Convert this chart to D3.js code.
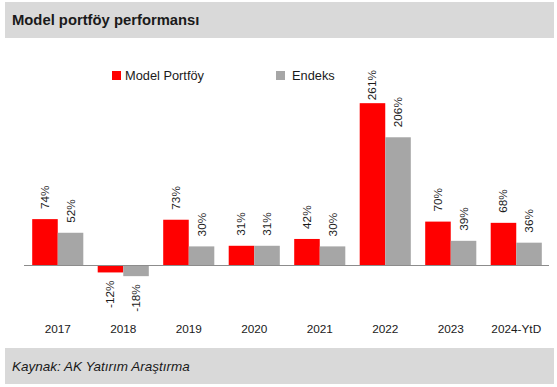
<!DOCTYPE html>
<html><head><meta charset="utf-8">
<script src="https://cdn.jsdelivr.net/npm/d3@7"></script>
<style>
body{margin:0;background:#fff;}
text{font-family:"Liberation Sans",Arial,sans-serif;}
</style></head>
<body><svg id="c" width="557" height="387"></svg>
<script>
const categories = ["2017","2018","2019","2020","2021","2022","2023","2024-YtD"];
const modelPortfoy = [74,-12,73,31,42,261,70,68];
const endeks = [52,-18,30,31,30,206,39,36];
const seriesNames = ["Model Portföy","Endeks"];
const seriesColors = ["#ff0000","#a6a6a6"];
const title = "Model portföy performansı";
const source = "Kaynak: AK Yatırım Araştırma";

const svg = d3.select("#c");
// header and footer bands
svg.append("rect").attr("x",5).attr("y",2).attr("width",549).attr("height",36).attr("fill","#d9d9d9");
svg.append("text").attr("x",12).attr("y",25).attr("font-size",14.8).attr("font-weight","bold").attr("fill","#1a1a1a").text(title);
svg.append("rect").attr("x",5).attr("y",348).attr("width",549).attr("height",36).attr("fill","#d9d9d9");
svg.append("text").attr("x",12).attr("y",371).attr("font-size",13.5).attr("font-style","italic").attr("fill","#1a1a1a").text(source);

const x = d3.scaleBand().domain(categories).range([25,549]).paddingInner(0.22).paddingOuter(0.11);
const xs = d3.scaleBand().domain([0,1]).range([0,x.bandwidth()]);
const y = d3.scaleLinear().domain([-50,300]).range([296,79]);

const data = [modelPortfoy, endeks];
const g = svg.append("g");
data.forEach((vals,si)=>{
  g.selectAll(null).data(vals).enter().append("rect")
    .attr("x",(d,i)=>x(categories[i])+xs(si))
    .attr("width",xs.bandwidth())
    .attr("y",d=>Math.min(y(d),y(0)))
    .attr("height",d=>Math.abs(y(d)-y(0)))
    .attr("fill",seriesColors[si]);
});

// axis
const xAxis = d3.axisBottom(x).tickSize(0).tickPadding(0);
const ax = svg.append("g").attr("transform",`translate(0,${y(0)})`).call(xAxis);
ax.select(".domain").attr("stroke","#8c8c8c").attr("d","M24,0.5H549");
ax.selectAll(".tick text").attr("y",68).attr("dy",0).attr("font-size",11.8).attr("fill","#1a1a1a")
  .attr("font-family","Liberation Sans, Arial, sans-serif");

// labels
data.forEach((vals,si)=>{
  vals.forEach((v,i)=>{
    const cx = x(categories[i])+xs(si)+xs.bandwidth()/2+4;
    const t = svg.append("text").attr("font-size",11.8).attr("fill","#1a1a1a").text(v+"%");
    const len = t.node().getComputedTextLength();
    let py, anchor;
    if(v>=0){ py = Math.max(y(v)-10, 70+len); anchor="start"; }
    else { py = y(v)+8; anchor="end"; }
    t.attr("text-anchor",anchor).attr("transform",`translate(${cx},${py}) rotate(-90)`);
  });
});

// legend
const leg = [{x:112,tx:125},{x:276,tx:292}];
seriesNames.forEach((n,i)=>{
  svg.append("rect").attr("x",leg[i].x).attr("y",71).attr("width",9).attr("height",9).attr("fill",seriesColors[i]);
  svg.append("text").attr("x",leg[i].tx).attr("y",80).attr("font-size",12.8).attr("fill","#1a1a1a").text(n);
});
</script></body></html>
